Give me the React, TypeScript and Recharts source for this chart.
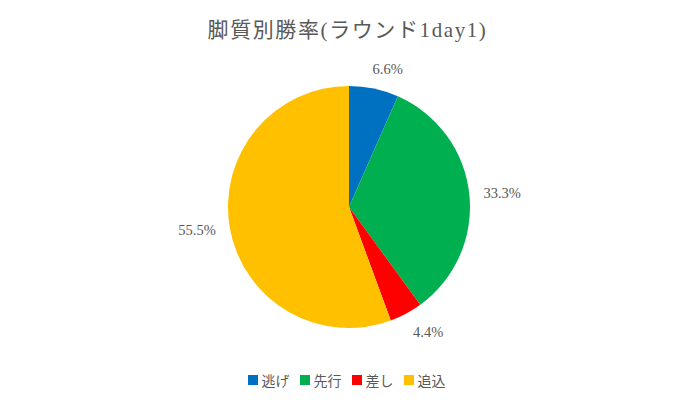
import React from 'react';
import { PieChart, Pie, Cell, Legend } from 'recharts';

const categories = ['逃げ', '先行', '差し', '追込'];
const winRates = [6.6, 33.3, 4.4, 55.5];
const colors = ['#0070C0', '#00B050', '#FF0000', '#FFC000'];

const data = categories.map((name, i) => ({ name, value: winRates[i] }));

const RADIAN = Math.PI / 180;
const labelFont = '"Liberation Serif", "Noto Sans CJK JP", serif';

const clamp = (v: number, lo: number, hi: number) =>
  Math.max(lo, Math.min(hi, v));

// outside-end label: the box corner/edge nearest the pie touches a point just past the rim
const renderLabel = (props: any) => {
  const { cx, cy, midAngle, outerRadius, value } = props;
  const text = `${value.toFixed(1)}%`;
  const halfW = text.length * 4;
  const halfH = 7;
  const dx = Math.cos(-midAngle * RADIAN);
  const dy = Math.sin(-midAngle * RADIAN);
  const rr = outerRadius + 13;
  const fx = clamp(dx / 0.3, -1, 1);
  const fy = Math.sign(dy) * clamp((Math.abs(dy) - 0.2) / 0.6, 0, 1);
  return (
    <text
      x={cx + rr * dx + halfW * fx}
      y={cy + rr * dy + halfH * fy}
      textAnchor='middle'
      dominantBaseline='central'
      fill='#595959'
      fontSize={14.5}
      fontFamily={labelFont}
    >
      {text}
    </text>
  );
};

const renderLegend = () => (
  <div
    style={{
      display: 'flex',
      justifyContent: 'center',
      gap: 10,
      marginLeft: 2,
      fontFamily: '"Noto Sans CJK JP", sans-serif',
      fontSize: 14,
      lineHeight: '18px',
      color: '#595959',
    }}
  >
    {categories.map((c, i) => (
      <span key={c} style={{ display: 'flex', alignItems: 'center' }}>
        <span
          style={{
            width: 10,
            height: 10,
            background: colors[i],
            marginRight: 4,
            display: 'inline-block',
          }}
        />
        {c}
      </span>
    ))}
  </div>
);

export default function App() {
  return (
    <div
      style={{
        position: 'fixed',
        left: 0,
        top: 0,
        width: 691,
        height: 400,
        background: '#fff',
      }}
    >
      <div
        style={{
          position: 'absolute',
          top: 15,
          left: 2,
          width: '100%',
          textAlign: 'center',
          fontFamily: labelFont,
          fontSize: 21,
          letterSpacing: 1.6,
          color: '#595959',
          lineHeight: '30px',
        }}
      >
        脚質別勝率(ラウンド1day1)
      </div>
      <PieChart
        width={691}
        height={400}
        margin={{ top: 0, right: 0, bottom: 0, left: 0 }}
      >
        <Pie
          data={data}
          dataKey='value'
          nameKey='name'
          cx={349}
          cy={207}
          outerRadius={121}
          startAngle={90}
          endAngle={-270}
          stroke='none'
          label={renderLabel}
          labelLine={false}
          isAnimationActive={false}
        >
          {data.map((d, i) => (
            <Cell key={d.name} fill={colors[i]} />
          ))}
        </Pie>
        <Legend
          verticalAlign='bottom'
          content={renderLegend}
          wrapperStyle={{ bottom: 11 }}
        />
      </PieChart>
    </div>
  );
}
